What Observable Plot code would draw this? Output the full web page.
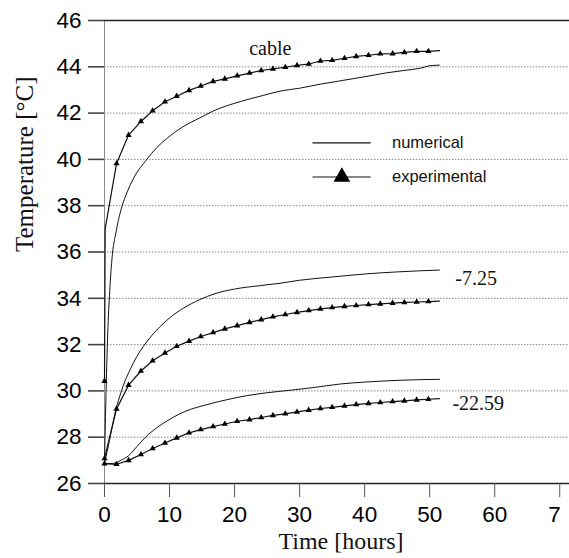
<!DOCTYPE html>
<html><head><meta charset="utf-8">
<script src="https://cdn.jsdelivr.net/npm/d3@7"></script>
<script src="https://cdn.jsdelivr.net/npm/@observablehq/plot@0.6"></script>
<style>body{margin:0;background:#fff}</style>
</head><body><div id="chart"></div>
<script>
// ---- data ----
const expTimes = [0,1.85,3.7,5.6,7.4,9.3,11.1,13.0,14.8,16.7,18.5,20.4,22.3,24.1,25.9,27.8,29.6,31.4,33.2,35.0,36.9,38.7,40.6,42.4,44.3,46.1,48.0,49.8];
const cableExp = [30.42,39.82,41.05,41.64,42.1,42.49,42.73,42.98,43.17,43.37,43.48,43.61,43.73,43.84,43.91,43.98,44.06,44.12,44.25,44.28,44.37,44.45,44.5,44.56,44.57,44.62,44.67,44.67];
const midExp = [27.08,29.22,30.25,30.86,31.3,31.64,31.93,32.15,32.35,32.52,32.68,32.82,32.96,33.08,33.2,33.3,33.39,33.47,33.54,33.6,33.65,33.69,33.73,33.76,33.79,33.82,33.84,33.86];
const lowExp = [26.86,26.83,27.0,27.25,27.51,27.75,27.97,28.19,28.33,28.46,28.57,28.69,28.76,28.85,28.94,29.01,29.09,29.17,29.24,29.29,29.35,29.41,29.46,29.5,29.54,29.57,29.61,29.64];
// line-only vertices of the experimental curves (no marker)
const expEndTime = 51.5;
const cableExpExtra = [[0.1, 37.0], [expEndTime, 44.7]];
const midExpExtra = [[expEndTime, 33.88]];
const lowExpExtra = [[expEndTime, 29.67]];

const cableNumT = [0,0.2,0.5,0.8,1.13,1.8,2.67,3.5,4.5,6.5,8,9.5,12,14.7,16.8,20.9,24.5,27,30.1,33.2,36.8,40,43.4,46,48.6,50.1,51.5];
const cableNum  = [26.9,29.5,32.5,34.3,35.65,36.9,37.95,38.6,39.2,40.0,40.5,40.88,41.4,41.8,42.1,42.5,42.77,42.95,43.08,43.25,43.42,43.57,43.74,43.84,43.94,44.05,44.07];
const midNumT = [0,0.5,1,1.75,2.5,3.2,4,5,6,7,8,9,10,12,14.7,17,20,24,27,30,35,40,45,51.5];
const midNum  = [26.9,27.5,28.2,29.2,29.9,30.46,30.95,31.5,31.93,32.3,32.62,32.9,33.15,33.55,33.95,34.2,34.4,34.55,34.65,34.78,34.92,35.05,35.14,35.22];
const lowNumT = [0,1,1.8,2.5,3.7,5,6.3,8,9.6,11.5,13.2,15,17,19.3,22,25,28.6,32,36.3,40,45.5,51.5];
const lowNum  = [26.86,26.86,26.9,27.0,27.2,27.6,28.0,28.4,28.7,29.0,29.2,29.35,29.5,29.65,29.8,29.92,30.03,30.14,30.3,30.38,30.46,30.5];

const yTicks = [26,28,30,32,34,36,38,40,42,44,46];
const xTicks = [0,10,20,30,40,50,60,70];
const xTickLabels = ["0","10","20","30","40","50","60","7"];
const annotations = [
  {label: "cable", t: 25.5, T: 44.5, anchor: "middle"},
  {label: "-7.25", t: 53.95, T: 34.57, anchor: "start"},
  {label: "-22.59", t: 53.5, T: 29.17, anchor: "start"}
];
const legendItems = [
  {label: "numerical", t0: 32.06, t1: 41.0, tm: 36.5, tt: 44.2, T: 40.71, marker: false},
  {label: "experimental", t0: 32.06, t1: 41.0, tm: 36.5, tt: 44.2, T: 39.24, marker: true}
];

// ---- build tables ----
function markers(name, vals) { return expTimes.map((t, i) => ({series: name, t, T: vals[i]})); }
function expLine(name, vals, extra) {
  return markers(name, vals).concat(extra.map(([t, T]) => ({series: name, t, T}))).sort((a, b) => a.t - b.t);
}
function numLine(name, ts, vals) { return ts.map((t, i) => ({series: name, t, T: vals[i]})); }

const expMarkers = [...markers("cable", cableExp), ...markers("mid", midExp), ...markers("low", lowExp)];
const expLines = [...expLine("cable", cableExp, cableExpExtra), ...expLine("mid", midExp, midExpExtra), ...expLine("low", lowExp, lowExpExtra)];
const numLines = [...numLine("cable", cableNumT, cableNum), ...numLine("mid", midNumT, midNum), ...numLine("low", lowNumT, lowNum)];

const sans = "'Liberation Sans', Arial, sans-serif";
const serif = "'Liberation Serif', 'Times New Roman', serif";

const chart = Plot.plot({
  width: 569, height: 558,
  marginLeft: 104, marginRight: 0, marginTop: 20, marginBottom: 75,
  x: {domain: [0, 71.5], axis: null},
  y: {domain: [26, 46], axis: null},
  style: {background: "white"},
  marks: [
    Plot.ruleY(yTicks.filter(d => d > 26 && d < 46), {stroke: "#888", strokeDasharray: "1.5,1.5", strokeWidth: 1}),
    Plot.ruleX([0], {stroke: "#888", strokeWidth: 1}),
    Plot.ruleY([26, 46], {stroke: "#222", strokeWidth: 1.3}),
    Plot.axisY(yTicks, {anchor: "left", tickSize: 16, tickPadding: 7, fontSize: 22.5, fontFamily: sans, fill: "#000", stroke: "#444", strokeWidth: 1.6, label: null, tickFormat: d => String(d)}),
    Plot.axisX(xTicks, {anchor: "bottom", tickSize: 14, tickPadding: 9, fontSize: 22.5, fontFamily: sans, fill: "#000", stroke: "#555", label: null, tickFormat: (d) => d === 70 ? "" : xTickLabels[xTicks.indexOf(d)]}),
    Plot.text([70], {x: d => d, frameAnchor: "bottom", text: d => xTickLabels[xTicks.indexOf(d)], textAnchor: "end", dx: 1, dy: 23, lineAnchor: "top", fontSize: 22.5, fontFamily: sans, fill: "#000"}),
    Plot.line(numLines, {x: "t", y: "T", z: "series", stroke: "#111", strokeWidth: 1, curve: "monotone-x"}),
    Plot.line(expLines, {x: "t", y: "T", z: "series", stroke: "#111", strokeWidth: 1.2}),
    Plot.dot(expMarkers, {x: "t", y: "T", symbol: "triangle", r: 2.3, fill: "#000", stroke: "none"}),
    // annotations
    Plot.text(annotations.filter(a => a.anchor === "middle"), {x: "t", y: "T", text: "label", textAnchor: "middle", lineAnchor: "bottom", fontSize: 20, fontFamily: serif, fill: "#111"}),
    Plot.text(annotations.filter(a => a.anchor === "start"), {x: "t", y: "T", text: "label", textAnchor: "start", lineAnchor: "bottom", fontSize: 20, fontFamily: serif, fill: "#111"}),
    // legend
    Plot.ruleY(legendItems, {y: "T", x1: "t0", x2: "t1", stroke: "#111", strokeWidth: 1.2}),
    Plot.dot(legendItems.filter(d => d.marker), {x: "tm", y: "T", symbol: "triangle", r: 6.2, fill: "#000", stroke: "none"}),
    Plot.text(legendItems, {x: "tt", y: "T", text: "label", textAnchor: "start", lineAnchor: "middle", fontSize: 16.5, fontFamily: sans, fill: "#111"}),
    // axis titles
    Plot.text(["Temperature [°C]"], {frameAnchor: "left", dx: -80, rotate: -90, fontSize: 25, fontFamily: serif, fill: "#111", lineAnchor: "middle"}),
    Plot.text(["Time [hours]"], {frameAnchor: "bottom", dx: 4, dy: 65, lineAnchor: "bottom", fontSize: 24, fontFamily: serif, fill: "#111"})
  ]
});
document.getElementById("chart").appendChild(chart);
</script>
</body></html>
